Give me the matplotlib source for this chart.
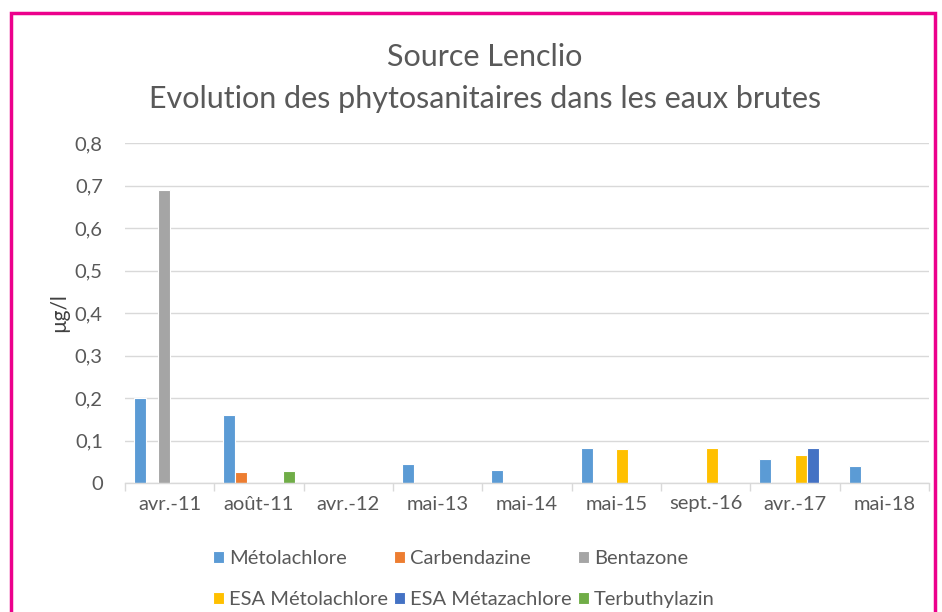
import numpy as np
import matplotlib
matplotlib.use("Agg")
import matplotlib.pyplot as plt
from matplotlib.patches import Rectangle

plt.rcParams['font.family'] = ['Lato', 'DejaVu Sans']

# data (µg/l), nan = no bar
categories = ['avr.-11', 'août-11', 'avr.-12', 'mai-13', 'mai-14',
              'mai-15', 'sept.-16', 'avr.-17', 'mai-18']
nan = np.nan
metolachlore = [0.2, 0.16, nan, 0.045, 0.031, 0.083, nan, 0.056, 0.039]
carbendazine = [nan, 0.026, nan, nan, nan, nan, nan, nan, nan]
bentazone = [0.69, nan, nan, nan, nan, nan, nan, nan, nan]
esa_metolachlore = [nan, nan, nan, nan, nan, 0.08, 0.083, 0.067, nan]
esa_metazachlore = [nan, nan, nan, nan, nan, nan, nan, 0.083, nan]
terbuthylazin = [nan, 0.028, nan, nan, nan, nan, nan, nan, nan]

series = [
    ('Métolachlore', metolachlore, '#5B9BD5'),
    ('Carbendazine', carbendazine, '#ED7D31'),
    ('Bentazone', bentazone, '#A5A5A5'),
    ('ESA Métolachlore', esa_metolachlore, '#FFC000'),
    ('ESA Métazachlore', esa_metazachlore, '#4472C4'),
    ('Terbuthylazin', terbuthylazin, '#70AD47'),
]

text_col = '#595959'
grid_col = '#D9D9D9'

fig = plt.figure(figsize=(9.42, 6.12), dpi=100)
ax = fig.add_axes([125 / 942, 1 - 483 / 612, 804 / 942, 340 / 612])

x = np.arange(len(categories))
w = 0.133
bars = []
for i, (name, vals, col) in enumerate(series):
    b = ax.bar(x + (i - 2.5) * w, vals, width=w, color=col, edgecolor='white',
               linewidth=0.8, label=name, zorder=3)
    bars.append(b)

ax.set_ylim(0, 0.8)
ax.set_xlim(-0.5, len(categories) - 0.5)
ax.set_yticks(np.arange(0, 0.81, 0.1))
ax.set_yticklabels(['0'] + [f'{v:.1f}'.replace('.', ',') for v in np.arange(0.1, 0.81, 0.1)])
ax.set_xticks(x)
ax.set_xticklabels(categories)
ax.set_xticks(np.arange(-0.5, len(categories)), minor=True)
ax.tick_params(axis='x', which='major', length=0, pad=9, labelsize=14.5, labelcolor=text_col)
ax.tick_params(axis='x', which='minor', length=6, color=grid_col, width=1)
ax.tick_params(axis='y', length=0, pad=16, labelsize=14.5, labelcolor=text_col)

ax.grid(axis='y', color=grid_col, linewidth=1, zorder=0)
for s in ['top', 'right', 'left']:
    ax.spines[s].set_visible(False)
ax.spines['bottom'].set_color(grid_col)
ax.spines['bottom'].set_linewidth(1)
ax.spines['bottom'].set_zorder(4)

ax.set_ylabel('µg/l', fontsize=15, color='#404040', labelpad=4)

fig.text(485 / 942, 1 - 57 / 612, 'Source Lenclio', ha='center', va='center',
         fontsize=22, color=text_col)
fig.text(485 / 942, 1 - 99 / 612, 'Evolution des phytosanitaires dans les eaux brutes',
         ha='center', va='center', fontsize=22, color=text_col)

# legend filled row by row like the original
order = [0, 3, 1, 4, 2, 5]
fig.legend([bars[k] for k in order], [series[k][0] for k in order],
           loc='center left', bbox_to_anchor=(205 / 942, 1 - 579 / 612), ncol=3,
           frameon=False, fontsize=14.5, labelcolor=text_col,
           handlelength=0.55, handleheight=0.55, handletextpad=0.25,
           columnspacing=0.3, labelspacing=1.2, borderaxespad=0)

# pink frame around the chart
fig.patches.append(Rectangle((11 / 942, -0.05), 924 / 942, 1.05 - 13 / 612,
                             transform=fig.transFigure, fill=False,
                             edgecolor='#EC008C', linewidth=2.5, clip_on=False))

fig.savefig('out.png', dpi=100)
